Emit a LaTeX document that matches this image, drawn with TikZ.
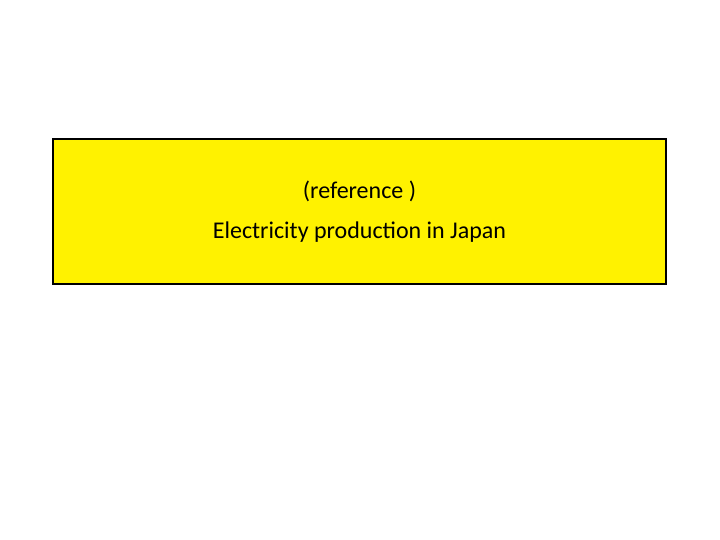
\documentclass[tikz,border=0pt]{standalone}
\usepackage{fontspec}
\setmainfont{Carlito}
\begin{document}
\begin{tikzpicture}[x=1pt,y=-1pt,
  titlebox/.style={draw=black, line width=1.2pt, fill=yellow, minimum width=613pt, minimum height=145pt, align=center, font=\fontsize{24}{40}\selectfont}]
\useasboundingbox (0,0) rectangle (720,540);
\node[titlebox] (t) at (359.5,211.5) {(reference )\\Electricity production in Japan};
\end{tikzpicture}
\end{document}
